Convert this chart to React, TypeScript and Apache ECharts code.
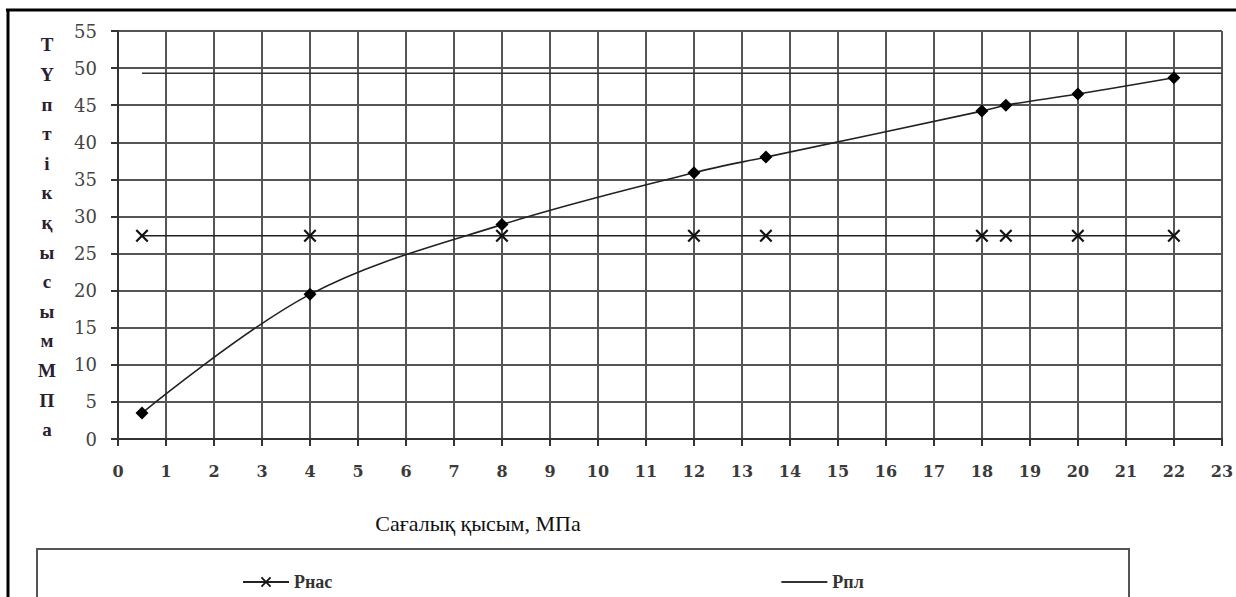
import React, { useEffect, useRef } from "react";
import * as echarts from "echarts";

const pressureX = [0.5, 4, 8, 12, 13.5, 18, 18.5, 20, 22];
const bottomholeY = [3.5, 19.5, 28.9, 35.9, 38.0, 44.2, 45.0, 46.5, 48.7];
const pnasY = [27.4, 27.4, 27.4, 27.4, 27.4, 27.4, 27.4, 27.4, 27.4];
const pplX = [0.5, 23];
const pplY = [49.3, 49.3];
const yAxisLetters = ["Т", "Ү", "п", "т", "і", "к", "қ", "ы", "с", "ы", "м", "М", "П", "а"];
const xAxisTitle = "Сағалық қысым, МПа";
const seriesNames = ["Рнас", "Рпл"];

const CROSS =
  "path://M0,1.2 L1.2,0 L5,3.8 L8.8,0 L10,1.2 L6.2,5 L10,8.8 L8.8,10 L5,6.2 L1.2,10 L0,8.8 L3.8,5 Z";

const TICKFONT = "DejaVu Serif";
const TIMES = "Liberation Serif";

export default function App() {
  const ref = useRef<HTMLDivElement>(null);
  useEffect(() => {
    if (!ref.current) return;
    const chart = echarts.init(ref.current, undefined, { renderer: "svg" });
    const gridColor = "#555";
    chart.setOption({
      animation: false,
      backgroundColor: "#fff",
      textStyle: { fontFamily: TIMES },
      grid: { left: 118, right: 10, top: 31, bottom: 158, containLabel: false },
      xAxis: {
        type: "value",
        min: 0,
        max: 23,
        interval: 1,
        axisLine: { show: true, lineStyle: { color: "#333", width: 2 } },
        axisTick: { show: true, inside: false, length: 7, lineStyle: { color: "#333", width: 2 } },
        splitLine: { show: true, lineStyle: { color: gridColor, width: 2 } },
        axisLabel: {
          margin: 24,
          fontSize: 16,
          fontWeight: "bold",
          color: "#3a3a3a",
          fontFamily: TICKFONT,
        },
      },
      yAxis: {
        type: "value",
        min: 0,
        max: 55,
        interval: 5,
        axisLine: { show: true, lineStyle: { color: "#333", width: 2 } },
        axisTick: { show: true, inside: false, length: 7, lineStyle: { color: "#333", width: 2 } },
        splitLine: { show: true, lineStyle: { color: gridColor, width: 2 } },
        axisLabel: {
          margin: 21,
          fontSize: 18,
          color: "#444",
          fontFamily: TICKFONT,
        },
      },
      legend: {
        data: [
          { name: seriesNames[0] },
          { name: seriesNames[1], itemStyle: { opacity: 0 } },
        ],
        left: 237,
        top: 568,
        itemWidth: 46,
        itemHeight: 13,
        itemGap: 448,
        textStyle: { fontSize: 18, fontWeight: "bold", color: "#333", fontFamily: TIMES },
      },
      graphic: [
        { type: "line", shape: { x1: 6, y1: 10, x2: 1236, y2: 10 }, style: { stroke: "#000", lineWidth: 3 } },
        { type: "line", shape: { x1: 8, y1: 9, x2: 8, y2: 597 }, style: { stroke: "#000", lineWidth: 3 } },
        {
          type: "rect",
          shape: { x: 37, y: 549, width: 1092, height: 70 },
          style: { fill: "none", stroke: "#555", lineWidth: 2 },
          silent: true,
        },
        {
          type: "text",
          x: 47,
          y: 30,
          style: {
            text: yAxisLetters.join("\n"),
            fontSize: 19,
            fontWeight: "bold",
            lineHeight: 29.6,
            align: "center",
            fill: "#2a2030",
            fontFamily: TIMES,
          },
        },
        {
          type: "text",
          x: 478,
          y: 523,
          style: {
            text: xAxisTitle,
            fontSize: 22,
            align: "center",
            verticalAlign: "middle",
            fill: "#111",
            fontFamily: TIMES,
          },
        },
      ],
      series: [
        {
          name: "curve",
          type: "line",
          smooth: 0.35,
          data: pressureX.map((x, i) => [x, bottomholeY[i]]),
          symbol: "diamond",
          symbolSize: 13,
          itemStyle: { color: "#000" },
          lineStyle: { color: "#222", width: 1.6 },
          z: 5,
        },
        {
          name: seriesNames[0],
          type: "line",
          data: pressureX.map((x, i) => [x, pnasY[i]]),
          symbol: CROSS,
          symbolSize: 13,
          itemStyle: { color: "#111" },
          lineStyle: { color: "#222", width: 1.6 },
          z: 4,
        },
        {
          name: seriesNames[1],
          type: "line",
          data: pplX.map((x, i) => [x, pplY[i]]),
          symbol: "none",
          itemStyle: { color: "#222" },
          lineStyle: { color: "#333", width: 1.6 },
          z: 3,
        },
      ],
    });
    return () => chart.dispose();
  }, []);
  return (
    <div
      ref={ref}
      style={{ position: "absolute", left: 0, top: 0, width: 1236, height: 597, background: "#fff" }}
    />
  );
}
